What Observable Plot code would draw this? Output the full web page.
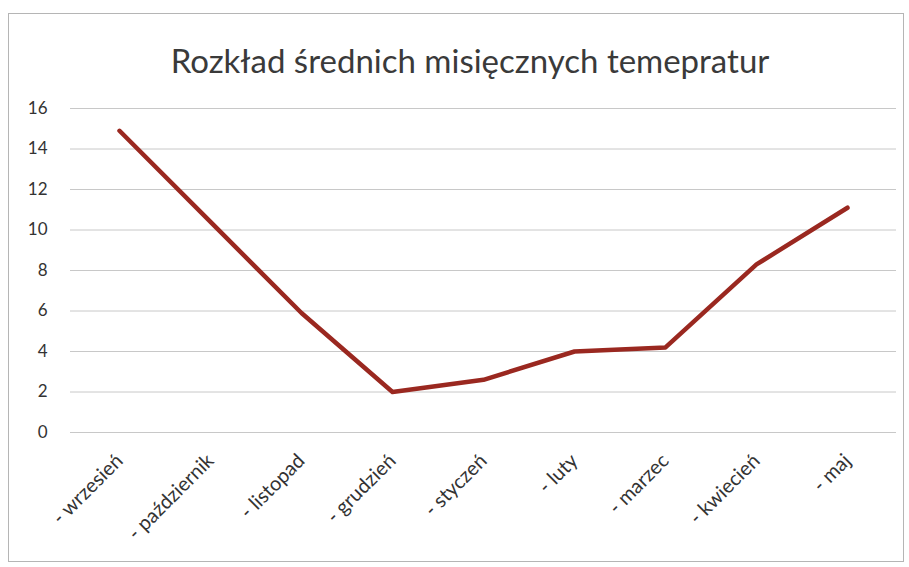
<!DOCTYPE html>
<html>
<head>
<meta charset="utf-8">
<script src="https://cdn.jsdelivr.net/npm/d3@7"></script>
<script src="https://cdn.jsdelivr.net/npm/@observablehq/plot@0.6"></script>
<style>
  html, body { margin: 0; padding: 0; background: #fff; width: 909px; height: 567px; overflow: hidden; }
  #frame { position: absolute; left: 8px; top: 13px; width: 896px; height: 549px; border: 1px solid #b5b5b5; box-sizing: border-box; }
  #title { position: absolute; left: 0; top: 40px; width: 940px; text-align: center; font-family: Lato, "Noto Sans", sans-serif; font-size: 33px; color: #3a3a3a; }
  #chart { position: absolute; left: 0; top: 90px; }
</style>
</head>
<body>
<div id="frame"></div>
<div id="title">Rozkład średnich misięcznych temepratur</div>
<div id="chart"></div>
<script>
const months = ["- wrzesień", "- październik", "- listopad", "- grudzień", "- styczeń", "- luty", "- marzec", "- kwiecień", "- maj"];
const temps = [14.9, 10.4, 5.9, 2.0, 2.6, 4.0, 4.2, 8.3, 11.1];
const yTicks = [0, 2, 4, 6, 8, 10, 12, 14, 16];

const data = months.map((m, i) => ({month: m, temp: temps[i]}));

const plot = Plot.plot({
  width: 909,
  height: 470,
  marginLeft: 70,
  marginRight: 13,
  marginTop: 18,
  marginBottom: 128,
  style: {fontFamily: "Lato, 'Noto Sans', sans-serif", fontSize: "16px", color: "#333", background: "transparent"},
  x: {type: "point", domain: months, padding: 0.5, label: null},
  y: {domain: [0, 16], label: null},
  marks: [
    Plot.ruleY(yTicks, {stroke: "#c8c8c8", strokeWidth: 1}),
    Plot.axisY({ticks: yTicks, tickSize: 0, tickPadding: 23, label: null, fontSize: 17}),
    Plot.axisX({tickSize: 0, tickRotate: -45, tickPadding: 25, label: null, fontSize: 20}),
    Plot.line(data, {x: "month", y: "temp", stroke: "#9a2820", strokeWidth: 4.5, strokeLinejoin: "round"})
  ]
});
document.getElementById("chart").appendChild(plot);
</script>
</body>
</html>
